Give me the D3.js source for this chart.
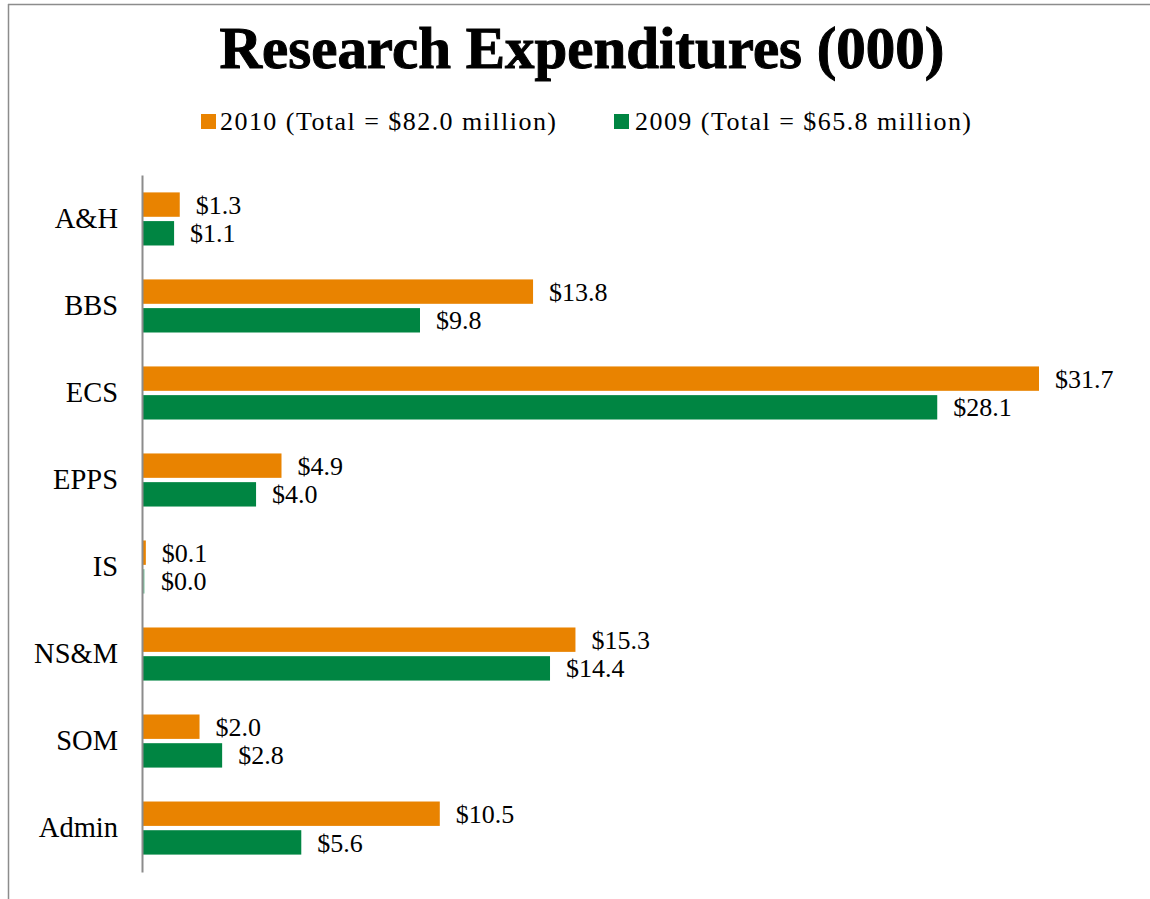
<!DOCTYPE html>
<html><head><meta charset="utf-8">
<script src="https://cdn.jsdelivr.net/npm/d3@7"></script>
<style>body{margin:0;background:#fff}svg{display:block}</style>
</head><body>
<script>
const categories = ["A&H","BBS","ECS","EPPS","IS","NS&M","SOM","Admin"];
const series = ["2010 (Total = $82.0 million)","2009 (Total = $65.8 million)"];
const values2010 = [1.3,13.8,31.7,4.9,0.1,15.3,2.0,10.5];
const values2009 = [1.1,9.8,28.1,4.0,0.0,14.4,2.8,5.6];
const colors = ["#E98300","#008542"];

const W=1150,H=899;
const svg=d3.select("body").append("svg").attr("width",W).attr("height",H);
const font="'Liberation Serif', serif";

function fit(sel,target,base){
  const w=sel.node().getComputedTextLength();
  sel.attr("font-size",base*target/w);
}

// frame
svg.append("line").attr("x1",8).attr("x2",W).attr("y1",4.5).attr("y2",4.5).attr("stroke","#8c8c8c").attr("stroke-width",1.5);
svg.append("line").attr("x1",8.5).attr("x2",8.5).attr("y1",4).attr("y2",H).attr("stroke","#8c8c8c").attr("stroke-width",1.5);

const x=d3.scaleLinear().domain([0,31.7]).range([143,1039]);
const y=d3.scaleBand().domain(categories).range([175,872]).paddingInner(0.39).paddingOuter(0.2);
const ys=d3.scaleBand().domain([0,1]).range([0,y.bandwidth()]).paddingInner(0.15);

// title
const title=svg.append("text").attr("x",582).attr("y",68).attr("text-anchor","middle")
 .attr("font-family",font).attr("font-weight","bold").attr("font-size",50).attr("fill","#000")
 .attr("stroke","#000").attr("stroke-width",1)
 .text("Research Expenditures (000)");
fit(title,725,50);

// legend
const leg=[{x:201,tx:220},{x:614,tx:635}];
series.forEach((s,i)=>{
  svg.append("rect").attr("x",leg[i].x).attr("y",114).attr("width",15).attr("height",15).attr("fill",colors[i]);
  svg.append("text").attr("x",leg[i].tx).attr("y",130).attr("font-family",font).attr("font-size",26).attr("fill","#000")
    .attr("textLength",336).attr("lengthAdjust","spacing").text(s);
});

const data=categories.map((c,i)=>({c,v:[values2010[i],values2009[i]]}));
const g=svg.append("g");
data.forEach(d=>{
  d.v.forEach((v,j)=>{
    const yy=y(d.c)+ys(j);
    g.append("rect").attr("x",x(0)).attr("y",yy).attr("width",Math.max(x(v)-x(0),1.5)).attr("height",ys.bandwidth())
      .attr("fill",v===0?"#7fc2a0":colors[j]);
    g.append("text").attr("x",Math.max(x(v),x(0)+2)+16).attr("y",yy+ys.bandwidth()/2).attr("dy","0.35em")
      .attr("font-family",font).attr("font-size",26).attr("fill","#000").text("$"+v.toFixed(1));
  });
});

// axis
const ax=svg.append("g").attr("transform",`translate(${x(0)-1},0)`).call(d3.axisLeft(y).tickSize(0).tickPadding(24));
ax.select(".domain").attr("stroke","#8c8c8c").attr("stroke-width",2);
ax.selectAll("text").attr("font-family",font).attr("font-size",28.5).attr("fill","#000");
</script>
</body></html>
